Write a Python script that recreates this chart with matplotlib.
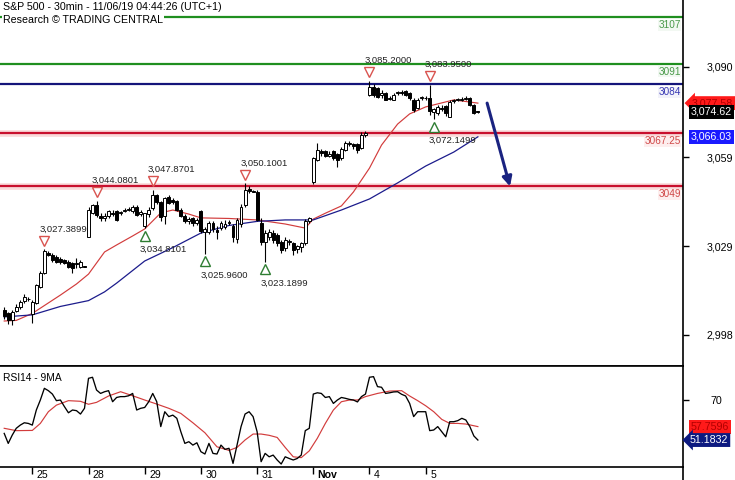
import matplotlib

matplotlib.use("Agg")
import matplotlib.pyplot as plt
import matplotlib.transforms as mtransforms
from matplotlib.lines import Line2D
import numpy as np

plt.rcParams["font.family"] = ["Liberation Sans", "DejaVu Sans"]

# ---------------------------------------------------------------- 30-min OHLC, Oct 24 (partial) -> Nov 5
opens = [
    3006.6, 3005.5, 3003.0, 3006.3, 3007.5, 3009.5, 3010.5,                      # Oct 24
    3005.2, 3009.0, 3014.6, 3019.2, 3026.2, 3025.5, 3024.9, 3024.0, 3023.7,      # Oct 25
    3023.2, 3022.8, 3022.5, 3021.4, 3021.6,
    3031.7, 3040.0, 3042.5, 3039.0, 3038.2, 3038.7, 3040.0, 3040.4, 3039.8,      # Oct 28
    3040.5, 3041.0, 3040.4, 3042.0, 3039.5,
    3035.5, 3039.5, 3041.5, 3046.0, 3043.5, 3038.8, 3045.5, 3044.5, 3044.0,      # Oct 29
    3041.0, 3038.8, 3037.3, 3038.0, 3036.5,
    3040.4, 3033.5, 3033.5, 3036.5, 3034.0, 3034.6, 3035.0, 3036.5, 3035.5,      # Oct 30
    3031.0, 3036.0, 3042.6, 3048.0, 3047.5,
    3047.2, 3036.5, 3030.0, 3031.5, 3033.0, 3032.3, 3030.0, 3027.8, 3029.8,      # Oct 31
    3029.5, 3027.5, 3028.3, 3029.5, 3037.0,
    3050.6, 3058.1, 3061.0, 3061.0, 3059.5, 3061.0, 3060.0, 3058.7, 3061.5,      # Nov 1
    3063.5, 3063.5, 3063.5, 3062.1, 3066.7,
    3080.4, 3083.2, 3082.7, 3080.5, 3081.0, 3079.0, 3078.7, 3081.2, 3081.5,      # Nov 4
    3081.7, 3081.0, 3078.8, 3075.8, 3079.3,
    3079.5, 3079.5, 3074.5, 3074.3, 3076.0, 3076.5, 3073.0, 3078.2, 3078.6,      # Nov 5
    3078.7, 3079.0, 3079.3, 3077.0, 3074.7,
]
highs = [
    3007.5, 3006.0, 3006.5, 3008.5, 3010.0, 3012.0, 3011.0,
    3010.0, 3015.5, 3019.8, 3027.3899, 3027.0, 3026.0, 3025.5, 3024.8, 3024.2,
    3023.8, 3023.2, 3024.5, 3023.6, 3021.8,
    3042.0, 3043.0, 3044.0801, 3039.8, 3039.8, 3040.8, 3041.0, 3040.8, 3040.6,
    3041.5, 3042.0, 3042.5, 3042.5, 3041.0,
    3040.0, 3042.0, 3047.8701, 3046.5, 3044.0, 3045.5, 3046.0, 3045.0, 3044.5,
    3041.5, 3039.5, 3038.5, 3038.5, 3038.0,
    3041.0, 3035.0, 3037.0, 3037.0, 3035.5, 3037.0, 3037.5, 3037.5, 3036.0,
    3038.0, 3043.0, 3050.1001, 3049.0, 3047.8,
    3047.8, 3038.0, 3034.0, 3034.5, 3034.0, 3033.0, 3030.5, 3031.5, 3031.0,
    3030.0, 3029.0, 3030.0, 3037.8, 3038.5,
    3059.0, 3063.8, 3062.0, 3061.5, 3061.0, 3061.5, 3060.5, 3062.5, 3064.5,
    3064.5, 3064.0, 3064.0, 3067.8, 3068.0,
    3085.2, 3084.0, 3083.0, 3082.0, 3081.5, 3080.0, 3081.0, 3081.8, 3082.0,
    3082.0, 3081.5, 3079.3, 3079.5, 3080.0,
    3080.0, 3083.95, 3076.0, 3077.0, 3077.0, 3077.0, 3078.7, 3079.0, 3079.5,
    3079.6, 3080.2, 3079.6, 3077.3, 3075.0,
]
lows = [
    3003.5, 3001.8, 3001.5, 3005.8, 3007.0, 3009.0, 3009.8,
    3002.0, 3008.5, 3014.0, 3018.8, 3025.0, 3023.2, 3022.8, 3022.5, 3022.3,
    3021.0, 3019.3, 3021.0, 3021.0, 3021.2,
    3031.5, 3039.5, 3038.5, 3037.0, 3037.0, 3038.3, 3039.0, 3037.3, 3039.3,
    3040.2, 3040.5, 3040.0, 3039.0, 3038.8,
    3034.8101, 3038.5, 3041.0, 3043.0, 3037.0, 3036.0, 3043.0, 3043.0, 3040.5,
    3038.5, 3036.5, 3036.0, 3035.5, 3035.8,
    3033.0, 3025.96, 3032.5, 3033.5, 3031.0, 3034.0, 3034.5, 3035.8, 3030.0,
    3029.5, 3035.0, 3042.0, 3046.8, 3047.0,
    3037.0, 3029.0, 3023.1899, 3030.5, 3029.5, 3028.5, 3026.0, 3027.0, 3029.0,
    3025.5, 3026.0, 3026.5, 3029.0, 3036.5,
    3050.0, 3057.8, 3059.5, 3059.0, 3059.0, 3058.0, 3055.5, 3058.0, 3061.0,
    3063.0, 3062.0, 3060.5, 3061.8, 3066.0,
    3080.0, 3079.8, 3079.5, 3079.5, 3078.5, 3078.7, 3078.5, 3080.5, 3080.5,
    3080.0, 3078.7, 3074.5, 3075.5, 3078.8,
    3078.5, 3073.5, 3072.1499, 3073.5, 3074.8, 3073.2, 3072.8, 3077.8, 3078.2,
    3078.3, 3078.7, 3076.5, 3073.8, 3074.3,
]
closes = [
    3004.5, 3003.0, 3006.0, 3007.7, 3009.4, 3011.0, 3010.2,
    3009.4, 3015.0, 3019.2, 3027.0, 3025.5, 3023.7, 3023.2, 3023.0, 3022.8,
    3021.4, 3020.9, 3022.8, 3023.2, 3021.4,
    3041.0, 3042.5, 3039.2, 3038.3, 3039.0, 3040.4, 3039.5, 3037.5, 3040.2,
    3041.0, 3041.4, 3042.0, 3039.2, 3040.2,
    3039.8, 3041.0, 3046.0, 3043.5, 3038.6, 3045.0, 3043.3, 3043.5, 3041.0,
    3039.0, 3037.0, 3037.8, 3036.4, 3037.5,
    3033.7, 3034.5, 3036.4, 3034.5, 3033.5, 3036.4, 3036.0, 3036.8, 3031.5,
    3037.5, 3042.0, 3047.8, 3047.5, 3047.2,
    3037.5, 3030.0, 3033.0, 3033.5, 3030.6, 3029.5, 3027.2, 3030.6, 3030.2,
    3027.2, 3028.5, 3029.5, 3037.3, 3038.0,
    3058.7, 3061.5, 3060.5, 3059.5, 3060.0, 3058.7, 3058.0, 3062.0, 3063.8,
    3063.8, 3063.0, 3061.5, 3066.7, 3067.3,
    3083.2, 3080.4, 3079.8, 3081.0, 3078.7, 3079.5, 3080.4, 3081.5, 3081.2,
    3080.4, 3079.3, 3075.2, 3078.7, 3079.5,
    3079.2, 3075.0, 3075.5, 3076.4, 3075.5, 3074.2, 3078.1, 3078.6, 3078.9,
    3079.0, 3079.3, 3077.0, 3074.2, 3074.62,
]

# moving averages on the price panel (read at selected bars)
red_ma_idx = [0, 3, 7, 14, 18, 21, 25, 28, 32, 35, 39, 42, 46, 49, 56, 63, 70, 75, 77, 80,
              84, 87, 91, 94, 98, 101, 105, 112, 118]
red_ma = [3002.8, 3003.0, 3005.4, 3011.7, 3015.5, 3018.9, 3026.5, 3028.9, 3032.0, 3034.4,
          3039.9, 3040.9, 3039.5, 3038.2, 3038.0, 3037.5, 3036.1, 3034.7, 3037.8, 3039.8,
          3042.3, 3047.1, 3055.3, 3063.2, 3070.4, 3073.9, 3076.3, 3078.7, 3077.6]
blue_ma_idx = [0, 7, 14, 21, 25, 28, 35, 42, 49, 56, 63, 70, 77, 84, 91, 98, 105, 112, 118]
blue_ma = [3004.2, 3004.9, 3007.8, 3009.8, 3012.8, 3015.8, 3023.4, 3028.0, 3033.0, 3035.6,
           3037.0, 3037.5, 3037.5, 3040.9, 3044.7, 3050.2, 3056.0, 3060.8, 3066.03]

# RSI(14) per bar and its 9-period MA (read at selected bars)
rsi = [
    54.3, 49.6, 53.5, 56.7, 58.2, 59.3, 59.0,
    58.2, 65.3, 70.0, 75.5, 74.4, 72.8, 69.7, 70.0, 66.9, 64.0, 65.3, 65.0, 63.4, 66.1,
    80.2, 80.7, 74.7, 73.1, 73.9, 74.4, 69.2, 71.2, 71.6, 71.6, 72.0, 73.1, 65.3, 66.1,
    66.5, 69.2, 73.1, 69.2, 57.5, 64.5, 62.2, 62.9, 61.4, 55.1, 49.6, 50.4, 48.8, 49.9,
    45.7, 44.6, 49.6, 44.9, 44.6, 48.8, 46.8, 47.3, 40.2, 48.8, 57.5, 63.4, 64.5, 62.2,
    55.1, 41.0, 44.9, 43.3, 44.1, 41.8, 39.9, 43.3, 42.5, 41.8, 42.5, 44.1, 55.6, 56.7,
    72.8, 73.4, 73.1, 71.2, 71.6, 68.4, 70.0, 71.2, 70.8, 70.3, 70.0, 69.1, 71.6, 72.8,
    80.7, 81.0, 76.3, 76.0, 73.1, 73.4, 73.8, 73.9, 72.7, 71.9, 68.4, 62.2, 64.5, 64.5,
    64.5, 55.6, 55.9, 57.5, 55.1, 52.7, 59.8, 59.8, 60.3, 61.4, 60.6, 57.5, 53.1, 51.1832,
]
rsi_ma_idx = [0, 3, 7, 9, 11, 13, 16, 19, 21, 23, 26, 29, 32, 35, 38, 41, 44, 47, 50, 53,
              56, 58, 60, 62, 64, 66, 68, 70, 72, 74, 76, 78, 80, 82, 84, 86, 88, 90, 93,
              96, 99, 101, 103, 105, 107, 109, 111, 113, 115, 118]
rsi_ma = [56.7, 55.6, 55.7, 59.0, 64.5, 67.6, 69.7, 69.4, 68.0, 68.9, 71.9, 73.9, 72.0,
          70.0, 68.1, 66.1, 63.7, 59.3, 54.6, 48.0, 46.3, 47.7, 51.2, 54.0, 54.0, 53.4,
          52.4, 47.7, 43.3, 42.9, 46.1, 52.0, 59.0, 65.3, 69.2, 70.0, 70.0, 71.6, 73.1,
          74.2, 74.4, 71.9, 69.7, 67.3, 64.5, 60.9, 59.0, 59.0, 58.7, 57.5]

# support / resistance levels
level_values = [3107, 3091, 3084, 3067.25, 3049]
level_labels = ["3107", "3091", "3084", "3067.25", "3049"]

# marked swing highs / lows (bar index, price)
swing_high_idx = [10, 23, 37, 60, 91, 106]
swing_high_val = [3027.3899, 3044.0801, 3047.8701, 3050.1001, 3085.2, 3083.95]
swing_low_idx = [35, 50, 65, 107]
swing_low_val = [3034.8101, 3025.96, 3023.1899, 3072.1499]

price_ticks = [3090.0, 3059.1, 3028.5, 2998.0]
price_ticklabels = ["3,090", "3,059", "3,029", "2,998"]
day_ticks = [7, 21, 35, 49, 63, 77, 91, 105]
day_labels = ["25", "28", "29", "30", "31", "Nov", "4", "5"]

# projected move: from the current area down to the 3049 support
arrow_from = (120.3, 3077.6)
arrow_to = (126.0, 3049.0)

# ---------------------------------------------------------------- colours
C_GREEN = "#1f8f1f"
C_NAVY = "#14147a"
C_RED = "#c8102e"
C_MA_RED = "#d23c3c"
C_MA_BLUE = "#1c1c8c"

W, H = 735, 480
fig = plt.figure(figsize=(W / 100, H / 100), dpi=100)
ax = fig.add_axes([0, 114 / H, 683 / W, 366 / H])
rax = fig.add_axes([0, 13 / H, 683 / W, 101 / H])

x = np.arange(len(closes))
o, h, l, c = (np.array(v) for v in (opens, highs, lows, closes))

# ===== price panel
ax.set_xlim(-1.05, 169.1)
ax.set_ylim(2987.35, 3113.0)

level_line = [C_GREEN, C_GREEN, C_NAVY, C_RED, C_RED]
level_text = ["#4a9a4a", "#4a9a4a", "#3a3ab4", "#d04848", "#d04848"]
level_bg = ["#f2f8f2", "#f2f8f2", "#f2f2fa", "#fdeeee", "#fdeeee"]
for v, lab, lc, tc, bg in zip(level_values, level_labels, level_line, level_text, level_bg):
    if lc == C_RED:
        ax.axhline(v, color="#f9dada", lw=4.8, zorder=1)
    ax.axhline(v, color=lc, lw=1.6, zorder=2)
    ax.annotate(lab, xy=(1, v), xycoords=("axes fraction", "data"), xytext=(-1.5, -5.6),
                textcoords="offset points", ha="right", va="center", fontsize=7.2, color=tc,
                bbox=dict(boxstyle="square,pad=0.05", fc=bg, ec="none"), zorder=3)

ax.plot(red_ma_idx, red_ma, color=C_MA_RED, lw=0.85, zorder=3)
ax.plot(blue_ma_idx, blue_ma, color=C_MA_BLUE, lw=0.9, zorder=3)

up = c >= o
body_lo = np.minimum(o, c)
body_h = np.maximum(np.abs(c - o), 0.3)
ax.vlines(x, l, h, color="black", lw=0.8, zorder=4)
ax.bar(x[up], body_h[up], bottom=body_lo[up], width=0.72, color="white",
       edgecolor="black", lw=0.7, zorder=5)
ax.bar(x[~up], body_h[~up], bottom=body_lo[~up], width=0.72, color="black",
       edgecolor="black", lw=0.7, zorder=5)

hi_off = mtransforms.offset_copy(ax.transData, fig=fig, y=6.2, units="points")
lo_off = mtransforms.offset_copy(ax.transData, fig=fig, y=-5.6, units="points")
ax.plot(swing_high_idx, swing_high_val, ls="none", marker="v", ms=6.5, mfc="white",
        mec="#d9534f", mew=1.0, transform=hi_off, zorder=6)
ax.plot(swing_low_idx, swing_low_val, ls="none", marker="^", ms=6.5, mfc="white",
        mec="#2e7d32", mew=1.0, transform=lo_off, zorder=6)
for i, v in zip(swing_high_idx, swing_high_val):
    ax.annotate(f"{v:,.4f}", (i, v), xytext=(-3.4, 14.6), textcoords="offset points",
                ha="left", va="center", fontsize=6.8, color="#222222", zorder=6)
for i, v in zip(swing_low_idx, swing_low_val):
    ax.annotate(f"{v:,.4f}", (i, v), xytext=(-3.4, -15.5), textcoords="offset points",
                ha="left", va="center", fontsize=6.8, color="#222222", zorder=6)

ax.annotate("", xy=arrow_to, xytext=arrow_from,
            arrowprops=dict(arrowstyle="-|>", color="#1a2380", lw=2.2, mutation_scale=14,
                            shrinkA=0, shrinkB=0), zorder=7)

ax.set_xticks([])
ax.yaxis.tick_right()
ax.set_yticks(price_ticks)
ax.set_yticklabels(price_ticklabels)
ax.tick_params(axis="y", length=4, width=1, pad=13, labelsize=7.7, colors="black")
for s in ("top", "left"):
    ax.spines[s].set_visible(False)
for s in ("bottom", "right"):
    ax.spines[s].set_linewidth(1.2)


def tag(axis, value, text, fc, tc, arrow=False, dx=5.5):
    style = "larrow,pad=0.18" if arrow else "square,pad=0.18"
    axis.annotate(text, xy=(1, value), xycoords=("axes fraction", "data"), xytext=(dx, 0),
                  textcoords="offset points", ha="left", va="center", fontsize=7.7, color=tc,
                  bbox=dict(boxstyle=style, fc=fc, ec="none"), annotation_clip=False, zorder=8)


tag(ax, red_ma[-1], "3,077.58", "#ff1a1a", "#b00000", arrow=True, dx=6.5)
tag(ax, closes[-1], "3,074.62", "black", "white")
tag(ax, blue_ma[-1], "3,066.03", "#1a1aff", "white")

# ===== RSI panel
rax.set_xlim(-1.05, 169.1)
rax.set_ylim(38.5, 86.0)
rax.plot(x, rsi, color="black", lw=0.95, zorder=3)
rax.plot(rsi_ma_idx, rsi_ma, color=C_MA_RED, lw=0.85, zorder=2)
rax.text(0.004, 0.88, "RSI14 - 9MA", transform=rax.transAxes, fontsize=7.4, va="center")

rax.yaxis.tick_right()
rax.set_yticks([70])
rax.set_yticklabels(["70"])
rax.tick_params(axis="y", length=4, width=1, pad=16, labelsize=7.7)
rax.set_xticks(day_ticks)
rax.set_xticklabels([])
rax.tick_params(axis="x", length=5, width=1, direction="out")
for t, lab in zip(day_ticks, day_labels):
    rax.annotate(lab, xy=(t, 0), xycoords=("data", "axes fraction"), xytext=(3.2, -2),
                 textcoords="offset points", ha="left", va="top", fontsize=7.6,
                 fontweight="bold" if lab == "Nov" else "normal", annotation_clip=False)
rax.spines["left"].set_visible(False)
for s in ("top", "bottom", "right"):
    rax.spines[s].set_linewidth(1.2)

tag(rax, rsi_ma[-1], "57.7596", "#ff1a1a", "#b00000")
tag(rax, rsi[-1], "51.1832", "#0d1a80", "white", arrow=True, dx=5.0)

# right axis line continues to the bottom edge
fig.add_artist(Line2D([683 / W, 683 / W], [0, 13 / H], color="black", lw=1.2))

# ---- header
fig.text(3 / W, 1 - 7 / H, "S&P 500 - 30min - 11/06/19 04:44:26 (UTC+1)", fontsize=7.7,
         va="center", ha="left")
fig.text(3 / W, 1 - 20 / H, "Research © TRADING CENTRAL", fontsize=7.7, va="center", ha="left",
         bbox=dict(boxstyle="square,pad=0.1", fc="white", ec="none"))

fig.savefig("out.png", dpi=100)
